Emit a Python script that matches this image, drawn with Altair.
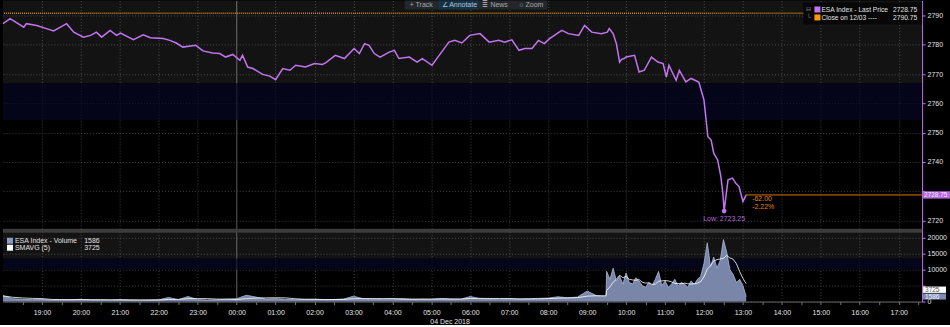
import altair as alt
import pandas as pd

W = 922
H_PRICE = 229
H_VOL = 73
FONT = "Liberation Sans"
PURPLE = "#c374f0"
ORANGE = "#e0860a"
TXT = "#e2e2e2"

# ---------------- data ----------------
price_times = ["18:00","18:11","18:32","18:36","18:52","19:07","19:18","19:38","19:49","20:04",
               "20:15","20:24","20:32","20:45","20:55","21:01","21:21","21:36","21:47","22:07",
               "22:17","22:27","22:37","22:57","23:08","23:23","23:34","23:43","23:54","00:05",
               "00:09","00:17","00:25","00:40","00:51","01:00","01:11","01:22","01:31","01:46",
               "02:00","02:12","02:17","02:32","02:46","03:01","03:09","03:17","03:24","03:32",
               "03:41","03:55","04:03","04:10","04:26","04:38","04:46","05:01","05:12","05:27",
               "05:36","05:47","05:59","06:15","06:29","06:44","06:53","07:04","07:15","07:24",
               "07:35","07:45","07:54","08:02","08:21","08:31","08:47","08:56","09:07","09:22",
               "09:31","09:34","09:40","09:45","09:50","09:53","09:57","10:00","10:13","10:20",
               "10:28","10:39","10:49","10:57","11:02","11:06","11:17","11:22","11:32","11:40",
               "11:52","12:00","12:06","12:11","12:15","12:21","12:26","12:29","12:31","12:37",
               "12:44","12:49","12:54","13:00","13:05"]
price_values = [2787.2,2788.9,2786.0,2787.2,2786.6,2785.5,2784.7,2787.2,2784.3,2782.6,
                2783.2,2784.3,2782.6,2784.9,2783.2,2784.0,2781.7,2783.4,2782.4,2782.1,
                2781.5,2780.6,2779.2,2779.8,2777.9,2777.2,2777.0,2775.8,2776.7,2774.7,
                2776.4,2772.4,2771.9,2769.9,2769.3,2768.1,2771.9,2771.3,2773.0,2772.4,
                2773.6,2773.3,2773.8,2776.4,2775.3,2778.7,2777.0,2780.4,2779.8,2777.0,
                2775.8,2777.5,2778.1,2775.3,2775.8,2774.1,2775.3,2773.0,2776.4,2780.9,
                2781.5,2780.6,2783.2,2783.8,2780.9,2781.5,2780.9,2781.7,2778.1,2778.7,
                2778.7,2781.5,2780.4,2782.1,2784.9,2783.8,2783.2,2786.6,2784.3,2783.8,
                2784.3,2785.5,2783.8,2780.4,2774.1,2775.0,2775.3,2775.8,2776.4,2770.7,
                2771.3,2775.8,2774.1,2773.6,2769.0,2773.0,2767.9,2771.3,2767.3,2768.5,
                2767.3,2761.1,2748.6,2747.5,2743.0,2740.7,2735.0,2729.4,2723.25,2733.9,
                2734.5,2732.7,2731.6,2726.5,2728.75]

vol_times = ["18:00","18:15","18:30","18:45","19:00","19:15","19:30","19:45","20:00","20:15",
             "20:30","20:45","21:00","21:15","21:30","21:45","22:00","22:15","22:30","22:45",
             "23:00","23:15","23:30","23:45","00:00","00:15","00:30","00:45","01:00","01:15",
             "01:30","01:45","02:00","02:15","02:30","02:45","03:00","03:15","03:30","03:45",
             "04:00","04:15","04:30","04:45","05:00","05:15","05:30","05:45","06:00","06:15",
             "06:30","06:45","07:00","07:15","07:30","07:45","08:00","08:15","08:30","08:45",
             "09:00","09:15","09:29",
             "09:30","09:35","09:40","09:45","09:50","09:55","10:00","10:05","10:10","10:15",
             "10:20","10:25","10:30","10:35","10:40","10:45","10:50","10:55","11:00","11:05",
             "11:10","11:15","11:20","11:25","11:30","11:35","11:40","11:45","11:50","11:55",
             "12:00","12:05","12:10","12:15","12:20","12:25","12:30","12:35","12:40","12:45",
             "12:50","12:55","13:00","13:05"]
vol_values = [1800,900,700,600,650,500,550,600,700,550,
              500,450,600,500,450,500,550,1300,600,1600,
              600,500,550,700,900,2000,1400,800,900,700,
              600,650,700,600,650,800,1700,900,700,650,
              800,900,700,750,700,1000,800,750,1600,900,
              800,750,850,800,900,1000,1100,1500,1200,1400,
              3300,1800,1500,
              9500,7000,10500,6500,8000,5500,9000,6000,5500,7500,
              6500,5000,4500,6000,5000,7000,9500,5000,6500,4500,
              5500,7000,5000,6000,5500,4500,6500,5500,7000,8000,
              12000,18500,11000,14000,10500,13000,19500,15500,10000,8500,
              6000,7000,5000,1586]

price_ticks = [2720, 2730, 2740, 2750, 2760, 2770, 2780, 2790]
vol_ticks = [0, 5000, 10000, 15000, 20000]
last_price = 2728.75
prev_close = 2790.75
low_price = 2723.25
low_time = "12:31"
last_time = "13:05"
last_volume = 1586
smavg_last = 3725
session_end = "17:36"


def mins(hm):
    """minutes elapsed since the 18:00 session open on 03 Dec 2018"""
    h, m = int(hm[:2]), int(hm[3:])
    return ((h - 18) % 24) * 60 + m


price_df = pd.DataFrame({"t": [mins(t) for t in price_times], "price": price_values})
vol_df = pd.DataFrame({"t": [mins(t) for t in vol_times], "volume": vol_values})
one = pd.DataFrame({"a": [0]})

tick_vals = list(range(30, mins(session_end), 30))
x_scale = alt.Scale(domain=[0, mins(session_end)], nice=False, zero=False)

grid_op = {"condition": {"test": "datum.value % 60 == 0", "value": 1}, "value": 0}
grid_col = {"condition": {"test": "datum.value == 360", "value": "#6a6a6a"}, "value": "#3e3e3e"}
grid_dash = {"condition": {"test": "datum.value == 360", "value": [1, 0]}, "value": [1, 2]}
label_expr = ("datum.value % 60 == 0 ? "
              "(((18 + floor(datum.value / 60)) % 24) < 10 ? '0' : '') + "
              "((18 + floor(datum.value / 60)) % 24) + ':00' : ''")

x_axis_top = alt.Axis(values=tick_vals, labels=False, ticks=False, domain=False, grid=True,
                      gridOpacity=grid_op, gridColor=grid_col, gridDash=grid_dash, title=None)
x_axis_bot = alt.Axis(values=tick_vals, grid=True, gridOpacity=grid_op, gridColor=grid_col,
                      gridDash=grid_dash, labelExpr=label_expr,
                      labelColor=TXT, labelFont=FONT, labelFontSize=7, labelOverlap=False,
                      labelFlush=False, labelPadding=4, tickColor="#777777", tickSize=3,
                      domainColor="#666666", title="04 Dec 2018", titleX=448, titleFont=FONT,
                      titleFontSize=7, titleFontWeight="normal", titleColor=TXT, titlePadding=2)

# labels that sit under the last-value boxes on the right axis are hidden (covered in the original)
y_price = alt.Scale(domain=[2717.2, 2795.1], nice=False, zero=False)
price_axis = alt.Axis(orient="right", values=price_ticks, title=None, grid=True, gridColor="#3e3e3e",
                      gridDash=[1, 2], domainColor=PURPLE, tickColor=PURPLE, tickSize=3,
                      labelColor=TXT, labelFont=FONT, labelFontSize=7, labelPadding=2,
                      labelExpr="datum.value == 2730 ? '' : format(datum.value, 'd')",
                      labelOverlap=False, labelFlush=False)
y_vol = alt.Scale(domain=[0, 22900], nice=False, zero=True)
vol_axis = alt.Axis(orient="right", values=vol_ticks, title=None, grid=True, gridColor="#3e3e3e",
                    gridDash=[1, 2], domainColor=PURPLE, tickColor=PURPLE, tickSize=3,
                    labelColor=TXT, labelFont=FONT, labelFontSize=7, labelPadding=2,
                    labelExpr="datum.value == 5000 ? '' : format(datum.value, 'd')",
                    labelOverlap=False, labelFlush=False)


def PX(v):
    return alt.XDatum(v, scale=x_scale, axis=x_axis_top)


def PY(v):
    return alt.YDatum(v, scale=y_price, axis=price_axis)


def VY(v):
    return alt.YDatum(v, scale=y_vol, axis=vol_axis)


def txt(s, x, y, color=TXT, align="left", size=7, **kw):
    return alt.Chart(one).mark_text(text=s, align=align, baseline="middle", fontSize=size,
                                    font=FONT, color=color, **kw).encode(
        x=alt.value(x), y=alt.value(y))


def box(x1, x2, y1, y2, fill, **kw):
    return alt.Chart(one).mark_rect(fill=fill, **kw).encode(
        x=alt.value(x1), x2=alt.value(x2), y=alt.value(y1), y2=alt.value(y2))


# ---------------- price panel ----------------
band_gray = alt.Chart(one).mark_rect(fill="#ffffff", opacity=0.075).encode(
    x=alt.value(0), x2=alt.value(W), y=PY(2795.1), y2=alt.Y2Datum(2766.9))
band_navy = alt.Chart(one).mark_rect(fill="#080826", opacity=0.65).encode(
    x=alt.value(0), x2=alt.value(W), y=PY(2766.9), y2=alt.Y2Datum(2754.3))

price_line = alt.Chart(price_df).mark_line(color=PURPLE, strokeWidth=1.5).encode(
    x=alt.X("t:Q", scale=x_scale, axis=x_axis_top),
    y=alt.Y("price:Q", scale=y_price, axis=price_axis))

close_rule = alt.Chart(one).mark_rule(color="#c98d12", strokeWidth=1.5, strokeDash=[1, 1]).encode(
    y=PY(prev_close))
last_rule = alt.Chart(one).mark_rule(color="#d9720a", strokeWidth=1).encode(
    x=PX(mins(last_time)), x2=alt.X2Datum(mins(session_end)), y=PY(last_price))

low_dot = alt.Chart(one).mark_circle(color=PURPLE, size=22, opacity=1).encode(
    x=PX(mins(low_time)), y=PY(low_price))
low_txt = alt.Chart(one).mark_text(text=f"Low: {low_price:.2f}", color="#b06ad8", fontSize=7,
                                   font=FONT, dy=8, align="center").encode(
    x=PX(mins(low_time)), y=PY(low_price))
chg1 = alt.Chart(one).mark_text(text=f"{last_price - prev_close:.2f}", color=ORANGE, fontSize=7,
                                font=FONT, dx=6, dy=4, align="left").encode(
    x=PX(mins(last_time)), y=PY(last_price))
chg2 = alt.Chart(one).mark_text(text=f"{(last_price - prev_close) / prev_close * 100:.2f}%",
                                color=ORANGE, fontSize=7, font=FONT, dx=6, dy=12,
                                align="left").encode(
    x=PX(mins(last_time)), y=PY(last_price))

last_box = alt.Chart(one).mark_rect(fill="#b46be0").encode(
    x=alt.value(923), x2=alt.value(950), y=PY(last_price + 1.25),
    y2=alt.Y2Datum(last_price - 1.25))
last_box_txt = alt.Chart(one).mark_text(text=f"{last_price:.2f}", color="#f4e8ff", fontSize=6.5,
                                        font=FONT, align="left").encode(
    x=alt.value(924), y=PY(last_price))

# legend (top right)
leg = [
    box(803, 922, 2, 24, "#070707"),
    txt("⊟", 806, 9, "#888888", size=6),
    txt("└", 806, 17, "#888888", size=6),
    box(814, 820, 6, 12, PURPLE),
    box(814, 820, 14, 20, "#ff9a00"),
    txt("ESA Index - Last Price", 821, 9.5, size=6.7),
    txt(f"{last_price:.2f}", 917, 9.5, align="right", size=6.7),
    txt("Close on 12/03 ----", 821, 17.5, size=6.7),
    txt(f"{prev_close:.2f}", 917, 17.5, align="right", size=6.7),
]
# toolbar (top centre)
tool = [
    box(403, 546, 0, 9, "#23272c"),
    box(437, 477, 0, 9, "#14324a"),
    txt("+ Track", 408, 4.5, "#a8a8a8"),
    txt("∠ Annotate", 440, 4.5, "#b8c4cc"),
    txt("≣ News", 481, 4.5, "#a8a8a8"),
    txt("○ Zoom", 518, 4.5, "#a8a8a8"),
]

price_chart = alt.layer(band_gray, band_navy, close_rule, price_line, last_rule, low_dot, low_txt,
                        chg1, chg2, last_box, last_box_txt, *leg, *tool).properties(
    width=W, height=H_PRICE)

# ---------------- volume panel ----------------
sep = alt.Chart(one).mark_rect(fill="#3c3c3c").encode(
    x=alt.value(0), x2=alt.value(W), y=VY(22900), y2=alt.Y2Datum(21650))
vband_gray = alt.Chart(one).mark_rect(fill="#ffffff", opacity=0.075).encode(
    x=alt.value(0), x2=alt.value(W), y=VY(21650), y2=alt.Y2Datum(13530))
vband_navy = alt.Chart(one).mark_rect(fill="#080826", opacity=0.65).encode(
    x=alt.value(0), x2=alt.value(W), y=VY(13530), y2=alt.Y2Datum(10100))

vol_area = alt.Chart(vol_df).mark_area(color="#7f8db3", opacity=0.95,
                                       line={"color": "#aab7d6", "strokeWidth": 0.8}).encode(
    x=alt.X("t:Q", scale=x_scale, axis=x_axis_bot),
    y=alt.Y("volume:Q", scale=y_vol, axis=vol_axis))
smavg_line = alt.Chart(vol_df).transform_window(
    smavg="mean(volume)", frame=[-4, 0], sort=[alt.SortField("t", order="ascending")]
).mark_line(color="#ffffff", strokeWidth=0.8).encode(
    x=alt.X("t:Q", scale=x_scale, axis=x_axis_bot),
    y=alt.Y("smavg:Q", scale=y_vol, axis=vol_axis))

vbox1 = alt.Chart(one).mark_rect(fill="#ffffff").encode(
    x=alt.value(923), x2=alt.value(946), y=VY(smavg_last + 1000),
    y2=alt.Y2Datum(smavg_last - 1000))
vbox1_t = alt.Chart(one).mark_text(text=str(smavg_last), color="#555555", fontSize=6.5, font=FONT,
                                   align="left").encode(x=alt.value(925), y=VY(smavg_last))
vbox2 = alt.Chart(one).mark_rect(fill="#7f8db3").encode(
    x=alt.value(923), x2=alt.value(946), y=VY(last_volume + 950),
    y2=alt.Y2Datum(last_volume - 950))
vbox2_t = alt.Chart(one).mark_text(text=str(last_volume), color="#eef2ff", fontSize=6.5, font=FONT,
                                   align="left").encode(x=alt.value(925), y=VY(last_volume))

vleg = [
    box(4, 10, 9, 15, "#8e9cc0"),
    box(4, 10, 16, 22, "#ffffff"),
    txt("ESA Index - Volume", 12, 12),
    txt(str(last_volume), 97, 12, align="right"),
    txt("SMAVG (5)", 12, 19),
    txt(str(smavg_last), 97, 19, align="right"),
]

vol_chart = alt.layer(sep, vband_gray, vband_navy, vol_area, smavg_line, vbox1, vbox1_t,
                      vbox2, vbox2_t, *vleg).properties(width=W, height=H_VOL)

chart = alt.vconcat(price_chart, vol_chart, spacing=0).properties(
    padding=0, background="#000000"
).configure_view(stroke=None).configure_concat(spacing=0)

chart.save("out.html", embed_options={"renderer": "svg", "actions": False})
